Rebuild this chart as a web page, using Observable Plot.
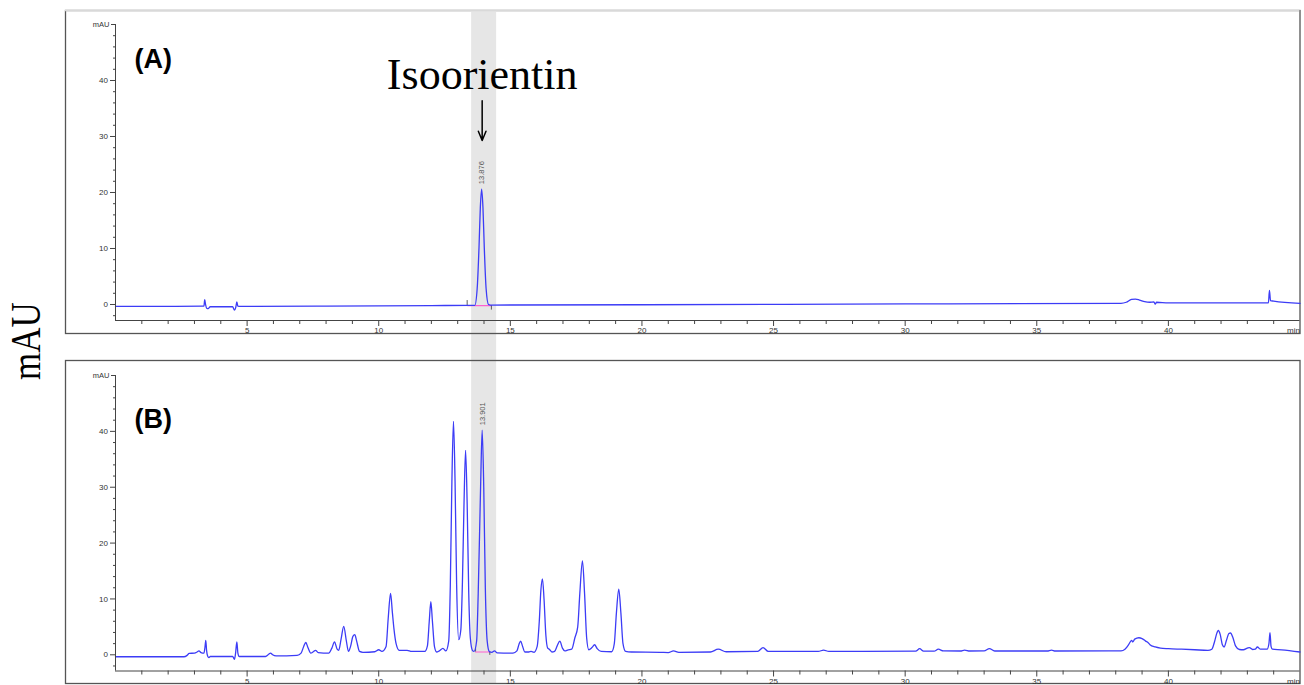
<!DOCTYPE html>
<html><head><meta charset="utf-8">
<script src="https://cdn.jsdelivr.net/npm/d3@7"></script>
<script src="https://cdn.jsdelivr.net/npm/@observablehq/plot@0.6"></script>
<style>
body{margin:0;background:#fff;}
#wrap{position:relative;width:1304px;height:685px;overflow:hidden;background:#fff;}
#wrap svg{display:block;}
#ylab{position:absolute;left:-23px;top:323px;width:100px;height:36px;line-height:36px;text-align:center;
font-family:"Liberation Serif","Times New Roman",serif;font-size:35px;color:#000;transform:rotate(-90deg) scaleY(1.2);z-index:2;}
</style></head>
<body><div id="wrap"><div id="ylab">mAU</div></div>
<script>
// ---------- data ----------
const X_DOMAIN = [0, 45];
const Y_DOMAIN_A = [-2.86, 50];
const Y_DOMAIN_B = [-2.9, 50];
const majorXTicks = [5, 10, 15, 20, 25, 30, 35, 40];
const minorXTicks = [1,2,3,4,6,7,8,9,11,12,13,14,16,17,18,19,21,22,23,24,26,27,28,29,31,32,33,34,36,37,38,39,41,42,43,44];
const xUnitTick = [45];
const xUnitLabel = "min";
const majorYTicks = [0, 10, 20, 30, 40];
const minorYTicks = [-2,2,4,6,8,12,14,16,18,22,24,26,28,32,34,36,38,42,44,46,48];
const yUnitTick = [50];
const yUnitLabel = "mAU";
const panelLabels = ["(A)", "(B)"];
const bandRange = [{start: 13.53, end: 14.48}];
const compound = [{t: 13.93, name: "Isoorientin", from: 36.4, to: 29.3}];
const peakLabelsA = [{t: 13.91, v: 20.6, label: "13.876"}];
const peakLabelsB = [{t: 13.93, v: 40.2, label: "13.901"}];
const integLineA = [{t: 13.38, v: -0.2}, {t: 14.27, v: -0.2}];
const integMarksA = [{t: 13.36, y1: -0.2, y2: 0.7}, {t: 14.28, y1: -0.2, y2: -1.0}];
const integLineB = [{t: 13.68, v: 0.5}, {t: 14.21, v: 0.5}];
const integMarksB = [{t: 13.68, y1: 0.5, y2: 1.1}, {t: 14.22, y1: 0.5, y2: -0.1}];

// chromatogram A: [time (min), signal (mAU)]
const traceA = [
 [0,-0.35],[3.3,-0.3],[3.36,-0.28],[3.39,0.85],[3.42,0.0],[3.47,-0.7],[3.52,-0.75],[3.6,-0.4],
 [4.45,-0.4],[4.52,-1.0],[4.57,-0.5],[4.61,0.45],[4.65,-0.3],[4.75,-0.35],[8,-0.3],[12,-0.2],
 [13.5,-0.15],[13.65,-0.15],[13.74,2.8],[13.81,10.2],[13.86,17.3],[13.91,20.6],[13.96,17.3],
 [14.01,10.2],[14.08,2.8],[14.17,0.0],[14.25,-0.1],[20,-0.05],[30,0.1],[38.2,0.2],[38.4,0.4],
 [38.6,0.9],[38.75,0.95],[38.9,0.8],[39.1,0.5],[39.3,0.4],[39.45,0.45],[39.5,0.05],[39.55,0.4],
 [40,0.3],[43.8,0.3],[43.84,2.5],[43.88,0.7],[44,0.6],[45,0.2]
];
// chromatogram B
const traceB = [
 [0,-0.35],[2.6,-0.35],[2.72,-0.1],[2.8,0.25],[3.0,0.3],[3.1,0.5],[3.17,0.7],[3.25,0.4],[3.36,0.3],
 [3.4,1.4],[3.43,2.6],[3.46,0.8],[3.5,-0.2],[3.55,-0.5],[3.6,-0.3],[4.45,-0.3],[4.52,-0.8],[4.56,0.2],
 [4.61,2.3],[4.65,0.3],[4.7,-0.3],[5.7,-0.3],[5.82,0.1],[5.89,0.3],[5.97,0.0],[6.1,-0.2],[6.9,-0.1],
 [7.05,0.3],[7.15,1.5],[7.23,2.2],[7.31,1.3],[7.42,0.3],[7.5,0.5],[7.6,0.8],[7.7,0.4],[8.1,0.3],
 [8.22,1.2],[8.32,2.3],[8.42,1.0],[8.48,0.8],[8.57,2.8],[8.67,5.1],[8.77,2.5],[8.85,0.6],[8.93,1.5],
 [9.02,3.3],[9.09,3.6],[9.16,2.5],[9.27,0.6],[9.4,0.45],[9.85,0.55],[10.0,0.9],[10.12,0.6],[10.28,1.5],
 [10.36,6.5],[10.45,11.0],[10.52,7.5],[10.58,4.6],[10.66,2.0],[10.78,0.8],[11.08,0.8],[11.25,0.6],
 [11.75,0.6],[11.85,1.6],[11.92,6.0],[11.98,9.5],[12.04,6.0],[12.12,1.4],[12.2,0.5],[12.3,0.7],
 [12.44,1.15],[12.55,0.7],[12.66,2.5],[12.72,12.5],[12.78,31],[12.84,41.8],[12.9,31],[12.96,12.5],
 [13.04,2.7],[13.12,4.5],[13.18,13],[13.24,27],[13.3,36.6],[13.36,27],[13.42,11],[13.48,3],[13.56,0.8],
 [13.62,0.6],[13.72,2.5],[13.78,11],[13.87,30],[13.93,40.2],[13.99,30],[14.05,12],[14.12,2.5],[14.2,0.6],
 [14.3,0.45],[14.4,0.7],[14.5,0.35],[15.1,0.3],[15.25,0.7],[15.33,1.9],[15.39,2.45],[15.46,1.6],
 [15.55,0.5],[15.7,0.5],[15.79,0.6],[15.9,0.45],[16.02,1.5],[16.1,6],[16.16,11.5],[16.22,13.6],
 [16.28,10],[16.35,3.5],[16.42,1.2],[16.48,1.0],[16.58,0.5],[16.68,0.6],[16.78,1.6],[16.88,2.45],
 [16.98,1.2],[17.07,0.7],[17.2,0.9],[17.33,1.0],[17.45,3.0],[17.56,5.0],[17.64,11],[17.74,16.8],
 [17.82,11],[17.9,3],[17.98,0.9],[18.1,1.3],[18.2,1.8],[18.3,1.1],[18.45,0.6],[18.85,0.55],[18.95,2],
 [19.03,7.5],[19.12,11.75],[19.2,7.5],[19.28,2],[19.38,0.6],[19.6,0.5],[20.7,0.45],[21.0,0.4],[21.2,0.7],
 [21.4,0.45],[22.6,0.5],[22.9,1.0],[23.2,0.55],[24.4,0.6],[24.6,1.3],[24.8,0.6],[26.7,0.6],[26.9,0.85],
 [27.1,0.6],[30.4,0.65],[30.55,1.1],[30.7,0.65],[31.1,0.65],[31.26,1.0],[31.45,0.7],[32.1,0.68],
 [32.26,0.85],[32.45,0.68],[33.0,0.7],[33.2,1.1],[33.4,0.68],[35.4,0.68],[35.56,0.85],[35.7,0.68],
 [38.2,0.7],[38.35,1.0],[38.5,1.9],[38.6,2.6],[38.65,2.3],[38.72,2.8],[38.88,3.05],[39.0,2.9],
 [39.1,2.6],[39.15,2.4],[39.2,2.3],[39.3,1.8],[39.5,1.4],[39.7,1.2],[40,1.1],[40.5,1.0],[41,0.9],
 [41.5,0.8],[41.65,1.0],[41.75,2.3],[41.85,4.0],[41.9,4.35],[41.97,3.6],[42.05,1.8],[42.12,1.4],
 [42.2,2.5],[42.3,3.8],[42.36,3.9],[42.45,3.1],[42.55,1.6],[42.7,0.95],[42.85,0.9],[43.0,1.2],
 [43.08,1.3],[43.2,0.95],[43.3,1.0],[43.38,1.4],[43.5,1.0],[43.75,1.0],[43.82,2.0],[43.86,3.95],
 [43.9,1.5],[43.95,1.0],[44.3,0.9],[45,0.5]
];

// ---------- drawing ----------
const FONT = "'Liberation Sans', Arial, Helvetica, sans-serif";
function panel(o) {
  const data = o.trace.map(([t, v]) => ({t, v}));
  return Plot.plot({
    width: 1304, height: o.height,
    marginLeft: 115, marginRight: 4.5, marginTop: o.marginTop, marginBottom: o.marginBottom,
    style: {fontFamily: FONT, background: "white", overflow: "visible"},
    x: {domain: X_DOMAIN, label: null},
    y: {domain: o.yDomain, label: null},
    marks: [
      Plot.rect(bandRange, {x1: "start", x2: "end", fill: "#e6e6e6", insetTop: o.bandInsets[0], insetBottom: o.bandInsets[1]}),
      Plot.frame({stroke: "#555", strokeWidth: 1.3, insetLeft: -50, insetTop: o.frameInsets[0], insetBottom: o.frameInsets[1]}),
      o.lightTop ? Plot.ruleY([o.yDomain[1]], {stroke: "#d9d9d9", strokeWidth: 1.5, dy: o.frameInsets[0], insetLeft: -50}) : null,
      Plot.line(o.integLine, {x: "t", y: "v", stroke: "#ff5fd0", strokeWidth: 1.2}),
      Plot.ruleX(o.integMarks, {x: "t", y1: "y1", y2: "y2", stroke: "#333", strokeWidth: 0.8}),
      Plot.line(data, {x: "t", y: "v", stroke: "#3c3cf6", strokeWidth: 1.3, curve: "monotone-x"}),
      Plot.ruleX([X_DOMAIN[0]], {stroke: "#444"}),
      Plot.ruleY([o.yDomain[0]], {stroke: "#444"}),
      Plot.axisX(minorXTicks, {tickSize: 4, tickFormat: () => "", stroke: "#444", label: null}),
      Plot.axisX(majorXTicks, {tickSize: 6, tickPadding: 1, fontSize: 8, fill: "#333", stroke: "#444", label: null}),
      Plot.axisX(xUnitTick, {tickSize: 0, tickPadding: 7, dx: -6.5, tickFormat: () => xUnitLabel, fontSize: 8, fill: "#333", label: null}),
      Plot.axisY(minorYTicks, {tickSize: 2, tickFormat: () => "", stroke: "#444", label: null}),
      Plot.axisY(majorYTicks, {tickSize: 5, tickPadding: 2.5, fontSize: 8, fill: "#333", stroke: "#444", label: null}),
      Plot.axisY(yUnitTick, {tickSize: 4, tickPadding: 2, tickFormat: () => yUnitLabel, fontSize: 7.5, fill: "#333", stroke: "#444", label: null}),
      Plot.text([o.label], {frameAnchor: "top-left", lineAnchor: "middle", dx: 19, dy: o.labelDy, text: d => d, fontSize: 27, fontWeight: "bold", textAnchor: "start", fill: "black"}),
      Plot.text(o.peaks, {x: "t", y: "v", text: "label", rotate: -90, textAnchor: "start", dy: -5, fontSize: 7.5, fill: "#555"}),
      ...(o.extras || [])
    ]
  });
}

const wrap = document.getElementById("wrap");
const panelA = panel({
  trace: traceA, yDomain: Y_DOMAIN_A, height: 347, marginTop: 24, marginBottom: 27,
  frameInsets: [-14, -13], bandInsets: [-12, -27], lightTop: true,
  label: panelLabels[0], labelDy: 34.5, peaks: peakLabelsA,
  integLine: integLineA, integMarks: integMarksA,
  extras: [
    Plot.text(compound, {x: "t", frameAnchor: "top", lineAnchor: "bottom", dy: 64, text: "name",
      fontFamily: "'Liberation Serif', 'Times New Roman', serif", fontSize: 44, fill: "black"}),
    Plot.arrow(compound, {x1: "t", x2: "t", y1: "from", y2: "to", stroke: "black", strokeWidth: 1.5, headLength: 10, headAngle: 45})
  ]
});
const panelB = panel({
  trace: traceB, yDomain: Y_DOMAIN_B, height: 338, marginTop: 28, marginBottom: 14.5,
  frameInsets: [-15, -12.5], bandInsets: [-28, -12.5], lightTop: false,
  label: panelLabels[1], labelDy: 44.3, peaks: peakLabelsB,
  integLine: integLineB, integMarks: integMarksB
});
wrap.appendChild(panelA);
wrap.appendChild(panelB);
</script></body></html>
